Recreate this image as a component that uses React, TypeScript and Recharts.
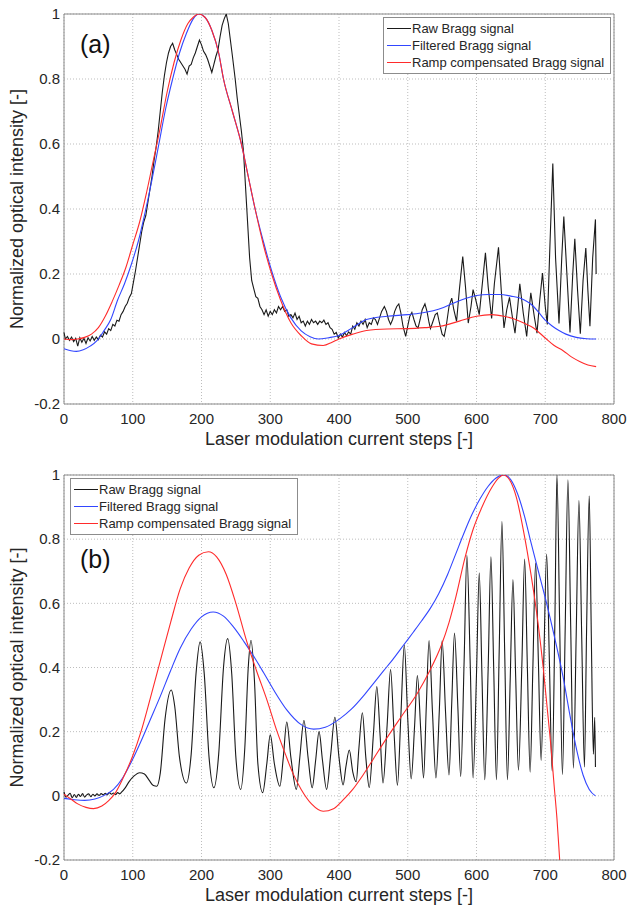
import React from "react";
import {
  LineChart,
  Line,
  XAxis,
  YAxis,
  CartesianGrid,
  Legend,
  Label,
  ReferenceArea,
} from "recharts";

const FONT = '"Liberation Sans", Arial, Helvetica, sans-serif';
const TEXT = "#262626";

const stepTicks = [0, 100, 200, 300, 400, 500, 600, 700, 800];
const intensityTicks = [-0.2, 0, 0.2, 0.4, 0.6, 0.8, 1];
const seriesNames = [
  "Raw Bragg signal",
  "Filtered Bragg signal",
  "Ramp compensated Bragg signal",
];
const seriesColors = ["#1a1a1a", "#3246ff", "#ff2b2b"];

// panel (a): [step, intensity]
const rawA: [number, number][] = [
  [0, 0.02], [2, 0.0], [5, 0.008], [8, -0.004], [11, 0.006], [14, -0.008], [17, 0.002],
  [20, -0.022], [23, 0.004], [26, -0.01], [29, 0.002], [32, -0.014], [35, 0.004],
  [38, -0.006], [41, 0.008], [44, -0.004], [47, 0.006], [50, -0.002], [53, 0.012],
  [56, 0.006], [59, 0.022], [62, 0.015], [65, 0.032], [68, 0.026], [71, 0.045],
  [74, 0.04], [77, 0.058], [80, 0.055], [83, 0.075], [86, 0.085], [89, 0.1], [92, 0.11],
  [95, 0.128], [98, 0.14], [101, 0.175], [104, 0.21], [107, 0.25], [110, 0.29],
  [113, 0.33], [116, 0.36], [119, 0.38], [122, 0.42], [125, 0.46], [128, 0.5],
  [131, 0.55], [134, 0.59], [137, 0.64], [140, 0.7], [143, 0.76], [146, 0.81],
  [149, 0.85], [152, 0.88], [155, 0.9], [158, 0.91], [161, 0.89], [164, 0.875],
  [167, 0.86], [170, 0.85], [173, 0.84], [176, 0.83], [179, 0.815], [182, 0.84],
  [185, 0.845], [188, 0.865], [191, 0.88], [194, 0.9], [197, 0.92], [200, 0.905],
  [203, 0.885], [206, 0.875], [209, 0.86], [212, 0.84], [215, 0.82], [218, 0.845],
  [221, 0.87], [224, 0.89], [227, 0.93], [230, 0.965], [233, 0.985], [236, 1.0],
  [239, 0.97], [242, 0.92], [245, 0.87], [249, 0.8], [252, 0.74], [255, 0.69],
  [258, 0.64], [261, 0.58], [264, 0.47], [267, 0.36], [270, 0.25], [273, 0.18],
  [276, 0.155], [279, 0.13], [282, 0.125], [285, 0.1], [288, 0.09], [291, 0.075],
  [294, 0.09], [297, 0.07], [300, 0.085], [303, 0.075], [306, 0.09], [309, 0.08],
  [312, 0.1], [315, 0.09], [318, 0.1], [321, 0.085], [324, 0.09], [327, 0.07],
  [330, 0.075], [333, 0.065], [336, 0.08], [339, 0.06], [342, 0.07], [345, 0.05],
  [348, 0.055], [351, 0.04], [354, 0.055], [357, 0.045], [360, 0.06], [363, 0.05],
  [366, 0.055], [369, 0.045], [372, 0.055], [375, 0.05], [378, 0.058], [381, 0.045],
  [384, 0.05], [387, 0.035], [390, 0.03], [393, 0.015], [396, 0.02], [399, 0.003],
  [402, 0.015], [405, 0.006], [408, 0.02], [411, 0.01], [414, 0.022], [417, 0.015],
  [420, 0.04], [423, 0.03], [426, 0.05], [429, 0.04], [432, 0.055], [435, 0.045],
  [438, 0.06], [441, 0.035], [444, 0.05], [447, 0.045], [450, 0.065], [453, 0.06],
  [456, 0.045], [459, 0.065], [462, 0.085], [466, 0.1], [469, 0.085], [472, 0.06],
  [475, 0.045], [478, 0.06], [481, 0.085], [484, 0.1], [487, 0.108], [490, 0.08],
  [493, 0.04], [497, 0.008], [500, 0.04], [503, 0.07], [506, 0.082], [509, 0.06],
  [512, 0.04], [515, 0.034], [518, 0.06], [521, 0.09], [525, 0.108], [528, 0.085],
  [531, 0.05], [533, 0.032], [536, 0.05], [540, 0.075], [543, 0.08], [546, 0.05],
  [550, 0.015], [553, 0.008], [556, 0.04], [560, 0.1], [564, 0.126], [567, 0.09],
  [571, 0.054], [575, 0.15], [580, 0.254], [584, 0.16], [588, 0.049], [592, 0.1],
  [595, 0.152], [599, 0.12], [604, 0.075], [608, 0.16], [613, 0.265], [617, 0.16],
  [622, 0.063], [626, 0.17], [632, 0.282], [636, 0.15], [640, 0.034], [644, 0.09],
  [648, 0.128], [652, 0.07], [656, 0.018], [660, 0.1], [663, 0.17], [668, 0.08],
  [673, 0.008], [676, 0.08], [679, 0.142], [684, 0.07], [688, 0.018], [692, 0.12],
  [696, 0.203], [700, 0.1], [703, 0.045], [707, 0.3], [711, 0.54], [715, 0.25],
  [720, 0.048], [724, 0.25], [727, 0.377], [732, 0.18], [736, 0.02], [740, 0.2],
  [743, 0.308], [747, 0.15], [751, 0.016], [755, 0.18], [759, 0.28], [762, 0.15],
  [765, 0.039], [769, 0.25], [773, 0.368], [774, 0.2],
];

const filteredA: [number, number][] = [
  [0, -0.03], [10, -0.036], [18, -0.038], [28, -0.033], [38, -0.022], [48, -0.005],
  [58, 0.025], [68, 0.06], [78, 0.12], [88, 0.17], [98, 0.23], [108, 0.3], [118, 0.39],
  [128, 0.49], [138, 0.6], [148, 0.71], [158, 0.8], [168, 0.88], [178, 0.94],
  [188, 0.985], [196, 1.0], [205, 0.99], [215, 0.95], [225, 0.88], [232, 0.8],
  [245, 0.7], [258, 0.6], [268, 0.5], [278, 0.4], [290, 0.3], [302, 0.21], [315, 0.13],
  [330, 0.065], [345, 0.025], [358, 0.007], [370, 0.0], [385, 0.004], [400, 0.011],
  [420, 0.035], [440, 0.06], [470, 0.07], [500, 0.075], [520, 0.08], [537, 0.087],
  [552, 0.097], [566, 0.11], [583, 0.124], [600, 0.134], [618, 0.137], [634, 0.137],
  [650, 0.132], [663, 0.126], [683, 0.1], [692, 0.078], [700, 0.058], [710, 0.04],
  [720, 0.026], [730, 0.015], [745, 0.005], [760, 0.001], [774, 0.0],
];

const rampA: [number, number][] = [
  [0, 0.0], [10, -0.002], [20, 0.0], [30, 0.005], [40, 0.015], [50, 0.035], [60, 0.07],
  [70, 0.115], [80, 0.165], [90, 0.22], [100, 0.29], [110, 0.36], [120, 0.45],
  [130, 0.55], [140, 0.65], [150, 0.76], [160, 0.85], [170, 0.92], [180, 0.97],
  [188, 0.99], [196, 1.0], [205, 0.99], [215, 0.95], [225, 0.88], [232, 0.8],
  [245, 0.7], [258, 0.6], [268, 0.5], [278, 0.4], [290, 0.29], [302, 0.2], [315, 0.12],
  [330, 0.05], [345, 0.01], [360, -0.015], [377, -0.02], [390, -0.01], [400, 0.0],
  [420, 0.015], [440, 0.026], [470, 0.031], [500, 0.032], [525, 0.035], [547, 0.039],
  [575, 0.055], [600, 0.07], [622, 0.075], [640, 0.07], [653, 0.063], [668, 0.05],
  [683, 0.034], [700, 0.003], [713, -0.02], [726, -0.036], [738, -0.055], [750, -0.069],
  [762, -0.08], [774, -0.085],
];

// panel (b): [step, intensity]
const rawB: [number, number][] = [
  [0, 0.012], [3, -0.004], [6, 0.002], [9, 0.008], [12, -0.006], [15, 0.004], [18, -0.005],
  [21, 0.005], [24, -0.002], [27, 0.007], [30, -0.004], [33, 0.003], [36, 0.006],
  [39, -0.003], [42, 0.005], [45, 0.0], [48, 0.006], [51, 0.001], [54, 0.007], [57, 0.003],
  [60, 0.008], [63, 0.003], [66, 0.01], [69, 0.005], [72, 0.009], [75, 0.004], [78, 0.01],
  [81, 0.006], [84, 0.012], [89, 0.025], [95, 0.045], [102, 0.062], [110, 0.072],
  [117, 0.068], [124, 0.048], [130, 0.032], [135, 0.03], [140, 0.07], [147, 0.24],
  [156, 0.33], [161, 0.28], [168, 0.12], [178, 0.04], [185, 0.13], [192, 0.38],
  [198, 0.48], [204, 0.38], [211, 0.12], [218, 0.025], [225, 0.13], [232, 0.4],
  [238, 0.49], [244, 0.38], [250, 0.12], [257, 0.02], [263, 0.15], [268, 0.4],
  [272, 0.485], [277, 0.36], [282, 0.1], [289, 0.01], [295, 0.1], [300, 0.19],
  [306, 0.1], [314, 0.03], [319, 0.12], [324, 0.23], [330, 0.12], [338, 0.02],
  [343, 0.12], [349, 0.235], [355, 0.12], [361, 0.025], [366, 0.11], [371, 0.2],
  [376, 0.11], [382, 0.02], [388, 0.13], [394, 0.245], [400, 0.12], [406, 0.034],
  [410, 0.09], [415, 0.143], [420, 0.075], [425, 0.044], [429, 0.15], [434, 0.259],
  [439, 0.12], [444, 0.026], [450, 0.19], [455, 0.341], [460, 0.18], [464, 0.04],
  [470, 0.22], [475, 0.394], [480, 0.2], [485, 0.033], [490, 0.25], [495, 0.471],
  [500, 0.24], [505, 0.053], [510, 0.22], [514, 0.375], [519, 0.2], [523, 0.056],
  [527, 0.28], [531, 0.484], [536, 0.26], [541, 0.056], [546, 0.27], [550, 0.483],
  [555, 0.26], [560, 0.065], [564, 0.29], [568, 0.507], [573, 0.27], [577, 0.06],
  [582, 0.42], [586, 0.75], [591, 0.4], [595, 0.056], [600, 0.38], [604, 0.695],
  [608, 0.37], [612, 0.05], [617, 0.4], [621, 0.745], [625, 0.4], [629, 0.05],
  [633, 0.45], [637, 0.855], [641, 0.45], [645, 0.05], [649, 0.36], [653, 0.674],
  [657, 0.37], [661, 0.08], [666, 0.41], [670, 0.738], [674, 0.4], [678, 0.074],
  [682, 0.4], [686, 0.726], [690, 0.42], [694, 0.11], [698, 0.43], [702, 0.754],
  [706, 0.42], [710, 0.077], [714, 0.54], [717, 1.0], [721, 0.53], [725, 0.066],
  [729, 0.52], [733, 0.985], [737, 0.53], [741, 0.086], [745, 0.5], [749, 0.92],
  [753, 0.5], [757, 0.09], [760, 0.5], [764, 0.935], [767, 0.5], [770, 0.13],
  [772, 0.245], [773, 0.09],
];

const filteredB: [number, number][] = [
  [0, -0.008], [15, -0.012], [30, -0.014], [45, -0.01], [60, 0.003], [72, 0.02],
  [85, 0.055], [99, 0.11], [112, 0.17], [125, 0.235], [140, 0.31], [155, 0.39],
  [169, 0.46], [185, 0.52], [200, 0.558], [217, 0.573], [232, 0.56], [247, 0.525],
  [262, 0.48], [275, 0.438], [290, 0.385], [305, 0.33], [324, 0.268], [345, 0.222],
  [363, 0.208], [380, 0.214], [401, 0.24], [418, 0.27], [435, 0.31], [450, 0.35],
  [465, 0.39], [480, 0.43], [494, 0.47], [508, 0.51], [520, 0.545], [533, 0.585],
  [545, 0.63], [558, 0.69], [570, 0.755], [582, 0.82], [593, 0.875], [605, 0.925],
  [617, 0.965], [628, 0.99], [640, 1.0], [650, 0.985], [660, 0.94], [670, 0.87],
  [678, 0.8], [690, 0.7], [702, 0.6], [714, 0.49], [726, 0.37], [736, 0.25],
  [746, 0.14], [755, 0.065], [764, 0.02], [773, 0.0],
];

const rampB: [number, number][] = [
  [0, 0.005], [10, -0.01], [20, -0.025], [32, -0.036], [43, -0.04], [55, -0.032],
  [65, -0.015], [75, 0.01], [87, 0.06], [100, 0.125], [112, 0.2], [125, 0.3],
  [140, 0.42], [155, 0.54], [169, 0.645], [182, 0.71], [196, 0.75], [210, 0.761],
  [222, 0.745], [236, 0.69], [250, 0.6], [266, 0.48], [280, 0.39], [295, 0.3],
  [310, 0.2], [322, 0.13], [333, 0.07], [345, 0.02], [360, -0.025], [377, -0.048],
  [392, -0.04], [405, -0.015], [420, 0.02], [435, 0.065], [450, 0.115], [467, 0.172],
  [490, 0.245], [514, 0.32], [532, 0.39], [549, 0.47], [560, 0.54], [570, 0.62],
  [583, 0.74], [595, 0.83], [608, 0.9], [622, 0.96], [632, 0.99], [639, 1.0],
  [648, 0.985], [658, 0.93], [668, 0.83], [680, 0.68], [690, 0.53], [697, 0.4],
  [703, 0.27], [708, 0.16], [713, 0.03], [717, -0.07], [721, -0.2], [726, -0.34],
];

const toRows = (pts: [number, number][]) =>
  pts.map(([step, value]) => ({ step, value }));

function LegendBox() {
  return (
    <div
      style={{
        border: "1px solid #8c8c8c",
        background: "#fff",
        padding: "2px 3px",
        fontFamily: FONT,
        fontSize: 13,
        lineHeight: "17px",
        color: TEXT,
        boxSizing: "border-box",
        width: 228,
        whiteSpace: "nowrap",
      }}
    >
      {seriesNames.map((name, i) => (
        <div key={name} style={{ display: "flex", alignItems: "center", height: 17 }}>
          <svg width={24} height={17} style={{ flex: "none", marginRight: 1 }}>
            <line x1={0} y1={8.5} x2={24} y2={8.5} stroke={seriesColors[i]} strokeWidth={1} />
          </svg>
          <span>{name}</span>
        </div>
      ))}
    </div>
  );
}

interface PanelProps {
  tag: string;
  tagTop: number;
  height: number;
  plotTop: number;
  legendLeft: number;
  raw: [number, number][];
  rawCurve: "linear" | "monotone";
  filtered: [number, number][];
  ramp: [number, number][];
}

function Panel(p: PanelProps) {
  const tick = { fill: TEXT, fontSize: 15, fontFamily: FONT };
  const titleStyle = { fill: TEXT, fontSize: 18, fontFamily: FONT, textAnchor: "middle" as const };
  return (
    <div style={{ position: "relative", width: 628, height: p.height }}>
      <LineChart
        width={628}
        height={p.height}
        margin={{ top: p.plotTop, right: 14, bottom: 0, left: 0 }}
      >
        <CartesianGrid stroke="#bdbdbd" strokeDasharray="1 2" />
        <XAxis
          type="number"
          dataKey="step"
          domain={[0, 800]}
          ticks={stepTicks}
          tick={tick}
          tickSize={0}
          tickMargin={9}
          axisLine={false}
          height={51}
        >
          <Label value="Laser modulation current steps [-]" position="insideBottom" offset={10} style={titleStyle} />
        </XAxis>
        <YAxis
          type="number"
          domain={[-0.2, 1]}
          ticks={intensityTicks}
          allowDataOverflow
          tick={tick}
          tickSize={0}
          tickMargin={4}
          axisLine={false}
          width={64}
        >
          <Label value="Normalized optical intensity [-]" angle={-90} position="insideLeft" offset={17} style={titleStyle} />
        </YAxis>
        <Line data={toRows(p.raw)} dataKey="value" name={seriesNames[0]} type={p.rawCurve}
          stroke={seriesColors[0]} strokeWidth={1.1} dot={false} activeDot={false} isAnimationActive={false} />
        <Line data={toRows(p.filtered)} dataKey="value" name={seriesNames[1]} type="monotone"
          stroke={seriesColors[1]} strokeWidth={1.1} dot={false} activeDot={false} isAnimationActive={false} />
        <Line data={toRows(p.ramp)} dataKey="value" name={seriesNames[2]} type="monotone"
          stroke={seriesColors[2]} strokeWidth={1.1} dot={false} activeDot={false} isAnimationActive={false} />
        <ReferenceArea x1={0} x2={800} y1={-0.2} y2={1} fill="none" stroke="#8a8a8a" strokeWidth={1} />
        <Legend
          layout="vertical"
          align="center"
          verticalAlign="middle"
          wrapperStyle={{ left: p.legendLeft, top: p.plotTop + 3, width: 228 }}
          content={() => <LegendBox />}
        />
      </LineChart>
      <div
        style={{
          position: "absolute",
          left: 80,
          top: p.tagTop,
          fontFamily: FONT,
          fontSize: 25,
          lineHeight: "25px",
          color: "#111",
        }}
      >
        {p.tag}
      </div>
    </div>
  );
}

export default function App() {
  return (
    <div style={{ width: 628, height: 911, background: "#fff" }}>
      <style>{"body{margin:0}"}</style>
      <Panel tag="(a)" tagTop={32} height={455} plotTop={14} legendLeft={383}
        raw={rawA} rawCurve="linear" filtered={filteredA} ramp={rampA} />
      <Panel tag="(b)" tagTop={92} height={456} plotTop={20} legendLeft={70}
        raw={rawB} rawCurve="monotone" filtered={filteredB} ramp={rampB} />
    </div>
  );
}
